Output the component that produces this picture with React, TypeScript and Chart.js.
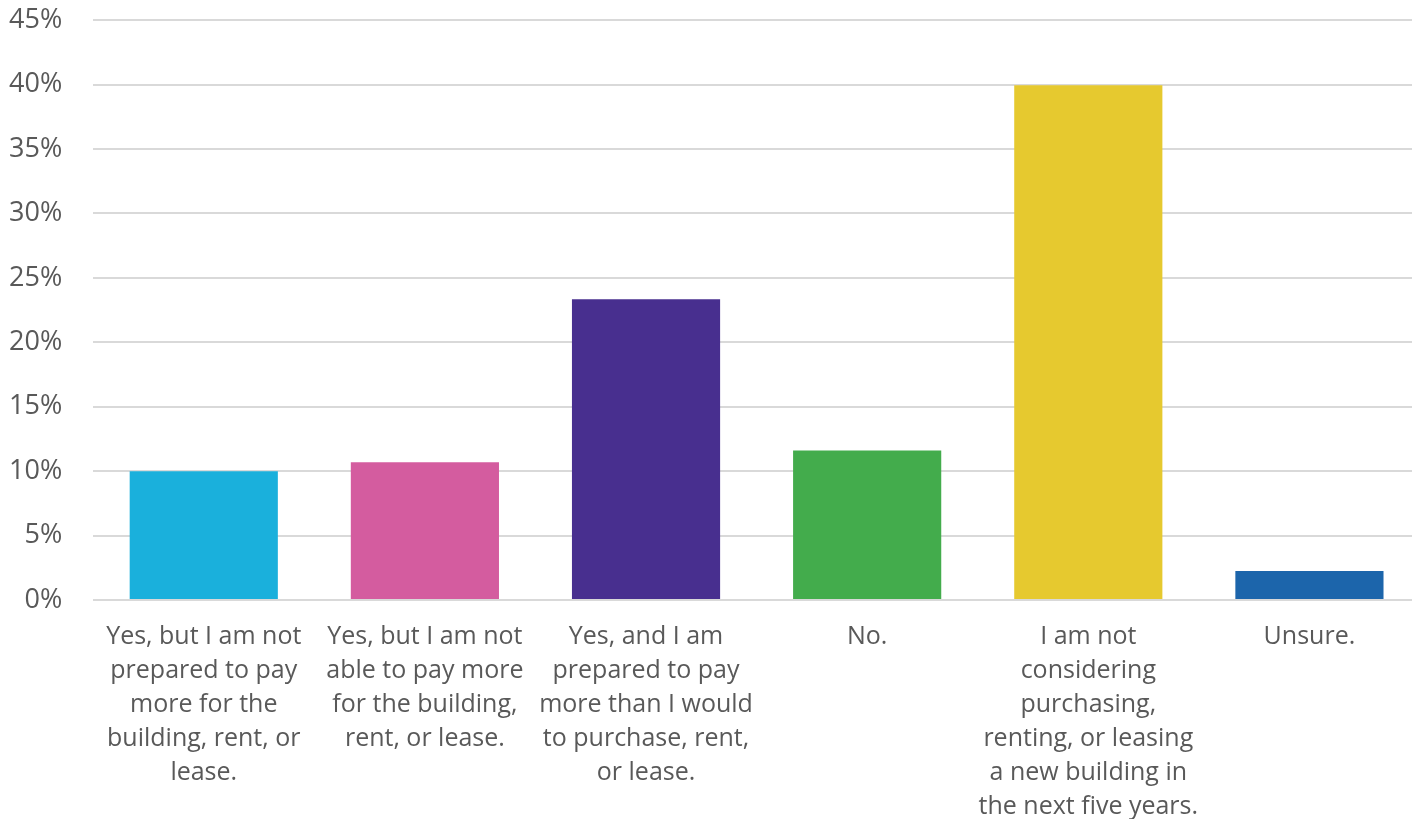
import React, { useEffect, useRef } from "react";
import { Chart, registerables } from "chart.js";

Chart.register(...registerables);

const categories: string[][] = [
  ["Yes, but I am not", "prepared to pay", "more for the", "building, rent, or", "lease."],
  ["Yes, but I am not", "able to pay more", "for the building,", "rent, or lease."],
  ["Yes, and I am", "prepared to pay", "more than I would", "to purchase, rent,", "or lease."],
  ["No."],
  ["I am not", "considering", "purchasing,", "renting, or leasing", "a new building in", "the next five years."],
  ["Unsure."],
];
const values: number[] = [10.0, 10.7, 23.35, 11.6, 39.95, 2.25];
const barColors: string[] = ["#1ab0dc", "#d45c9f", "#482f8f", "#43ac4c", "#e6c92f", "#1c65ab"];
const yMax = 45;
const yStep = 5;

export default function App() {
  const ref = useRef<HTMLCanvasElement>(null);
  useEffect(() => {
    document.body.style.margin = "0";
    const ctx = ref.current!;
    const chart = new Chart(ctx, {
      type: "bar",
      data: {
        labels: categories,
        datasets: [
          {
            data: values,
            backgroundColor: barColors,
            borderWidth: 0,
            categoryPercentage: 1,
            barPercentage: 0.67,
          },
        ],
      },
      options: {
        animation: false,
        responsive: false,
        maintainAspectRatio: false,
        layout: { padding: { top: 0, right: 0, left: 5, bottom: -25 } },
        plugins: { legend: { display: false }, tooltip: { enabled: false } },
        scales: {
          x: {
            grid: { display: false, drawTicks: false },
            border: { display: false },
            ticks: {
              color: "#595959",
              font: { family: "'Open Sans'", size: 25, lineHeight: 1.36 },
              maxRotation: 0,
              autoSkip: false,
              padding: 20,
            },
          },
          y: {
            min: 0,
            max: yMax,
            grid: {
              color: "#d9d9d9",
              lineWidth: 2,
              drawTicks: true,
              tickLength: 27,
              tickColor: "rgba(0,0,0,0)",
            },
            border: { display: false },
            ticks: {
              stepSize: yStep,
              color: "#595959",
              font: { family: "'Open Sans'", size: 27 },
              padding: 4,
              callback: (v: any) => v + "%",
            },
          },
        },
      },
    });
    return () => chart.destroy();
  }, []);
  return (
    <div style={{ width: 1412, height: 819, overflow: "hidden", position: "relative" }}>
      <canvas ref={ref} width={1420} height={819} style={{ display: "block" }} />
    </div>
  );
}
